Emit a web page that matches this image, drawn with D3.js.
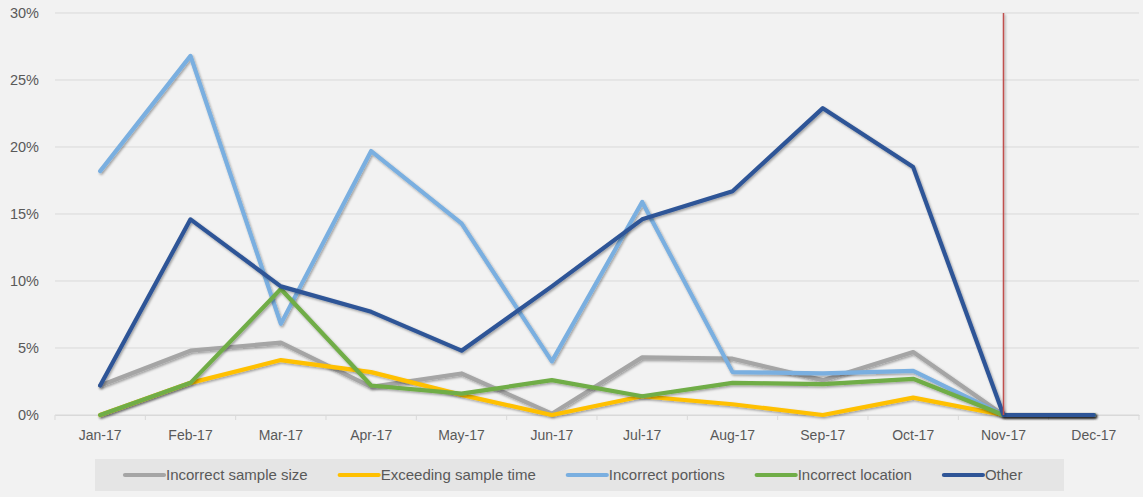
<!DOCTYPE html>
<html>
<head>
<meta charset="utf-8">
<script src="https://cdn.jsdelivr.net/npm/d3@7"></script>
<style>
  body { margin: 0; background: #f2f2f2; }
  svg { display: block; font-family: "Liberation Sans", Arial, sans-serif; }
</style>
</head>
<body>
<svg id="chart" width="1143" height="497"></svg>
<script>
const months = ["Jan-17", "Feb-17", "Mar-17", "Apr-17", "May-17", "Jun-17",
                "Jul-17", "Aug-17", "Sep-17", "Oct-17", "Nov-17", "Dec-17"];

const sampleSize   = [2.2, 4.8, 5.4, 2.1, 3.1, 0.1, 4.3, 4.2, 2.6, 4.7, 0, 0];
const sampleTime   = [0, 2.4, 4.1, 3.2, 1.5, 0, 1.4, 0.8, 0, 1.3, 0, 0];
const portions     = [18.2, 26.8, 6.8, 19.7, 14.3, 4.0, 15.9, 3.2, 3.1, 3.3, 0, 0];
const wrongPlace   = [0, 2.4, 9.4, 2.2, 1.6, 2.6, 1.4, 2.4, 2.3, 2.7, 0, 0];
const other        = [2.2, 14.6, 9.6, 7.7, 4.8, 9.6, 14.6, 16.7, 22.9, 18.5, 0, 0];

const seriesNames  = ["Incorrect sample size", "Exceeding sample time", "Incorrect portions", "Incorrect location", "Other"];
const seriesColors = ["#a5a5a5", "#ffc000", "#7aafe0", "#70ad47", "#2f5597"];
const seriesValues = [sampleSize, sampleTime, portions, wrongPlace, other];
const yTicks = [0, 5, 10, 15, 20, 25, 30];
const markerMonth = "Nov-17";

const svg = d3.select("#chart");
const plot = { left: 55, right: 1139, top: 13, bottom: 415 };

const x = d3.scaleBand().domain(months).range([plot.left, plot.right]);
const y = d3.scaleLinear().domain([0, 30]).range([plot.bottom, plot.top]);

const defs = svg.append("defs");
defs.append("filter").attr("id", "shadow")
    .attr("filterUnits", "userSpaceOnUse")
    .attr("x", 0).attr("y", 0).attr("width", 1143).attr("height", 497)
  .append("feDropShadow")
    .attr("dx", 1.2).attr("dy", 1.5).attr("stdDeviation", 1.3)
    .attr("flood-color", "#000").attr("flood-opacity", 0.35);

// gridlines
svg.append("g")
  .selectAll("line")
  .data(yTicks)
  .join("line")
    .attr("x1", plot.left).attr("x2", plot.right)
    .attr("y1", d => y(d)).attr("y2", d => y(d))
    .attr("stroke", "#d9d9d9").attr("stroke-width", 1);

// y labels
svg.append("g")
  .selectAll("text")
  .data(yTicks)
  .join("text")
    .attr("x", 39).attr("y", d => y(d))
    .attr("dy", "0.35em")
    .attr("text-anchor", "end")
    .attr("font-size", 14.5).attr("fill", "#595959")
    .text(d => d + "%");

// x axis
const xAxis = d3.axisBottom(x).tickSize(0).tickPadding(15);
const gx = svg.append("g").attr("transform", `translate(0,${plot.bottom})`).call(xAxis);
gx.select(".domain").attr("stroke", "#d9d9d9");
gx.selectAll("text").attr("font-size", 14).attr("fill", "#595959")
  .attr("font-family", "'Liberation Sans', Arial, sans-serif");
// tick marks at band boundaries
svg.append("g")
  .selectAll("line")
  .data(months.concat(["end"]))
  .join("line")
    .attr("x1", (d, i) => i < months.length ? x(d) : x.range()[1])
    .attr("x2", (d, i) => i < months.length ? x(d) : x.range()[1])
    .attr("y1", plot.bottom).attr("y2", plot.bottom + 5)
    .attr("stroke", "#d9d9d9");

// series lines
const line = d3.line()
  .x((d, i) => x(months[i]) + x.bandwidth() / 2)
  .y(d => y(d));

svg.append("g")
  .selectAll("path")
  .data(seriesValues)
  .join("path")
    .attr("d", d => line(d))
    .attr("fill", "none")
    .attr("stroke", (d, i) => seriesColors[i])
    .attr("stroke-width", 4.2)
    .attr("stroke-linejoin", "round")
    .attr("stroke-linecap", "round")
    .attr("filter", "url(#shadow)");

// marker line
const mx = x(markerMonth) + x.bandwidth() / 2;
svg.append("line")
  .attr("x1", mx).attr("x2", mx).attr("y1", plot.top).attr("y2", plot.bottom)
  .attr("stroke", "#c0504d").attr("stroke-width", 1.5)
  .attr("filter", "url(#shadow)");

// legend
const legend = svg.append("g");
legend.append("rect")
  .attr("x", 95).attr("y", 459).attr("width", 969).attr("height", 32)
  .attr("fill", "#e5e5e5");

let lx = 125;
const ly = 475;
seriesNames.forEach((name, i) => {
  legend.append("line")
    .attr("x1", lx).attr("x2", lx + 39).attr("y1", ly).attr("y2", ly)
    .attr("stroke", seriesColors[i]).attr("stroke-width", 4.2)
    .attr("stroke-linecap", "round");
  const t = legend.append("text")
    .attr("x", lx + 41).attr("y", ly).attr("dy", "0.35em")
    .attr("font-size", 15).attr("fill", "#595959")
    .text(name);
  lx += 41 + t.node().getComputedTextLength() + 32;
});
</script>
</body>
</html>
